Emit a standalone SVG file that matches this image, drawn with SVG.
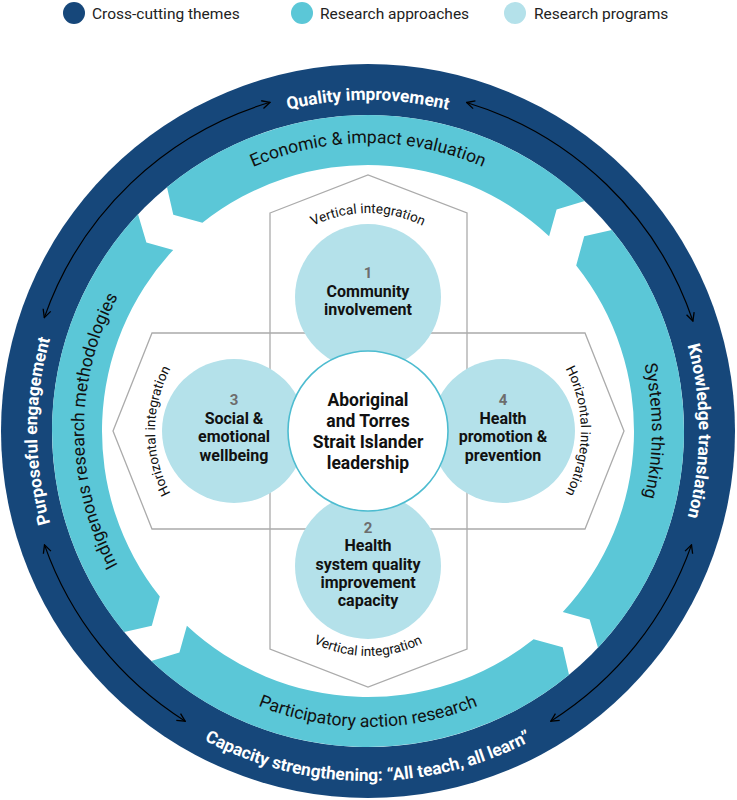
<svg xmlns="http://www.w3.org/2000/svg" width="737" height="800" viewBox="0 0 737 800">
<style>
.dark{fill:#16477A}
.teal{fill:#5BC7D7}
.light{fill:#B4E1EA}
.leg{font-family:Roboto,"Liberation Sans",sans-serif;font-size:15.5px;fill:#222}
.ringw{font-family:Roboto,"Liberation Sans",sans-serif;font-size:17.3px;font-weight:bold;fill:#fff}
.ringb{font-family:Roboto,"Liberation Sans",sans-serif;font-size:17.6px;fill:#111}
.integ{font-family:Roboto,"Liberation Sans",sans-serif;font-size:13.5px;fill:#111}
.num{font-family:Roboto,"Liberation Sans",sans-serif;font-size:15px;font-weight:bold;fill:#6d6d6d}
.nt{font-family:Roboto,"Liberation Sans",sans-serif;font-size:16px;font-weight:bold;fill:#111}
.ct{font-family:Roboto,"Liberation Sans",sans-serif;font-size:17.5px;font-weight:bold;fill:#111}
.hex{fill:none;stroke:#ababab;stroke-width:1.3}
.arr{fill:none;stroke:#000;stroke-width:1.2;marker-start:url(#ah);marker-end:url(#ah)}
</style>
<defs>
<marker id="ah" viewBox="0 0 10 10" refX="9" refY="5" markerWidth="10" markerHeight="10" markerUnits="userSpaceOnUse" orient="auto-start-reverse">
<path d="M1,1 L9,5 L1,9" fill="none" stroke="#000" stroke-width="1.3"/>
</marker>
<path id="pDarkTop" d="M37,431 A331,331 0 0 1 699,431"/>
<path id="pDarkRight" d="M368,100 A331,331 0 0 1 368,762"/>
<path id="pDarkLeft" d="M368,762 A331,331 0 0 1 368,100"/>
<path id="pDarkBottom" d="M18,431 A350,350 0 0 0 718,431"/>
<path id="pTealTop" d="M80,431 A288,288 0 0 1 656,431"/>
<path id="pTealRight" d="M368,147 A284,284 0 0 1 368,715"/>
<path id="pTealLeft" d="M368,715 A284,284 0 0 1 368,147"/>
<path id="pTealBottom" d="M72,431 A296,296 0 0 0 664,431"/>
<path id="pVTop" d="M245,336 A123,123 0 0 1 491,336"/>
<path id="pVBottom" d="M245,533 A123,123 0 0 0 491,533"/>
<path id="pHLeft" d="M288,564 A133,133 0 0 1 288,298"/>
<path id="pHRight" d="M448,298 A133,133 0 0 1 448,564"/>
</defs>
<rect width="737" height="800" fill="#fff"/>

<g id="legend">
<circle class="dark" cx="74" cy="13" r="11"/>
<text class="leg" x="92" y="19">Cross-cutting themes</text>
<circle class="teal" cx="302" cy="13" r="11"/>
<text class="leg" x="320" y="19">Research approaches</text>
<circle class="light" cx="515" cy="13" r="11"/>
<text class="leg" x="534" y="19">Research programs</text>
</g>

<g id="cross-cutting-ring">
<circle class="dark" cx="368" cy="431" r="367"/>
<circle fill="#fff" cx="368" cy="431" r="316"/>
</g>

<g id="research-approaches-ring">
<path id="seg-right" class="teal" d="M598.0,647.7 A316,316 0 0 0 611.8,230.0 L584.2,236.3 L576.2,265.4 A266,266 0 0 1 562.8,612.1 L589.6,619.6 Z"/>
<path id="seg-top" class="teal" d="M584.7,201.0 A316,316 0 0 0 167.0,187.2 L173.3,214.8 L202.4,222.8 A266,266 0 0 1 549.1,236.2 L556.6,209.4 Z"/>
<path id="seg-left" class="teal" d="M138.0,214.3 A316,316 0 0 0 124.2,632.0 L151.8,625.7 L159.8,596.6 A266,266 0 0 1 173.2,249.9 L146.4,242.4 Z"/>
<path id="seg-bottom" class="teal" d="M151.3,661.0 A316,316 0 0 0 569.0,674.8 L562.7,647.2 L533.6,639.2 A266,266 0 0 1 186.9,625.8 L179.4,652.6 Z"/>
</g>

<g id="connectors">
<path class="arr" d="M44.3,317.6 A343,343 0 0 1 270.0,102.3"/>
<path class="arr" d="M466.6,102.5 A343,343 0 0 1 692.9,321.0"/>
<path class="arr" d="M691.5,544.9 A343,343 0 0 1 550.8,721.2"/>
<path class="arr" d="M185.2,721.2 A343,343 0 0 1 44.5,544.9"/>
</g>

<g id="theme-quality">
<text class="ringw"><textPath href="#pDarkTop" startOffset="50%" text-anchor="middle">Quality improvement</textPath></text>
</g>
<g id="theme-knowledge">
<text class="ringw"><textPath href="#pDarkRight" startOffset="50%" text-anchor="middle">Knowledge translation</textPath></text>
</g>
<g id="theme-capacity">
<text class="ringw"><textPath href="#pDarkBottom" startOffset="50%" text-anchor="middle">Capacity strengthening: “All teach, all learn”</textPath></text>
</g>
<g id="theme-purposeful">
<text class="ringw"><textPath href="#pDarkLeft" startOffset="50%" text-anchor="middle">Purposeful engagement</textPath></text>
</g>

<g id="approach-economic">
<text class="ringb"><textPath href="#pTealTop" startOffset="50%" text-anchor="middle">Economic &amp; impact evaluation</textPath></text>
</g>
<g id="approach-systems">
<text class="ringb"><textPath href="#pTealRight" startOffset="50%" text-anchor="middle">Systems thinking</textPath></text>
</g>
<g id="approach-participatory">
<text class="ringb"><textPath href="#pTealBottom" startOffset="50%" text-anchor="middle">Participatory action research</textPath></text>
</g>
<g id="approach-indigenous">
<text class="ringb"><textPath href="#pTealLeft" startOffset="50%" text-anchor="middle">Indigenous research methodologies</textPath></text>
</g>

<g id="vertical-integration">
<polygon class="hex" points="270,213 368,175 467,213 467,649 368,687 270,649"/>
<text class="integ"><textPath href="#pVTop" startOffset="50%" text-anchor="middle">Vertical integration</textPath></text>
<text class="integ"><textPath href="#pVBottom" startOffset="50%" text-anchor="middle">Vertical integration</textPath></text>
</g>
<g id="horizontal-integration">
<polygon class="hex" points="152,333 585,333 624,431 585,529 152,529 113,431"/>
<text class="integ"><textPath href="#pHLeft" startOffset="50%" text-anchor="middle">Horizontal integration</textPath></text>
<text class="integ"><textPath href="#pHRight" startOffset="50%" text-anchor="middle">Horizontal integration</textPath></text>
</g>

<g id="program-1">
<circle class="light" cx="368" cy="297" r="73"/>
<text class="num" x="368" y="278" text-anchor="middle">1</text>
<text class="nt" x="368" y="297" text-anchor="middle">Community</text>
<text class="nt" x="368" y="315" text-anchor="middle">involvement</text>
</g>
<g id="program-2">
<circle class="light" cx="368" cy="566" r="73"/>
<text class="num" x="368" y="533" text-anchor="middle">2</text>
<text class="nt" x="368" y="551" text-anchor="middle">Health</text>
<text class="nt" x="368" y="570" text-anchor="middle">system quality</text>
<text class="nt" x="368" y="588" text-anchor="middle">improvement</text>
<text class="nt" x="368" y="606" text-anchor="middle">capacity</text>
</g>
<g id="program-3">
<circle class="light" cx="234" cy="431" r="72"/>
<text class="num" x="234" y="405" text-anchor="middle">3</text>
<text class="nt" x="234" y="424" text-anchor="middle">Social &amp;</text>
<text class="nt" x="234" y="442" text-anchor="middle">emotional</text>
<text class="nt" x="234" y="461" text-anchor="middle">wellbeing</text>
</g>
<g id="program-4">
<circle class="light" cx="503" cy="431" r="72"/>
<text class="num" x="503" y="405" text-anchor="middle">4</text>
<text class="nt" x="503" y="424" text-anchor="middle">Health</text>
<text class="nt" x="503" y="442" text-anchor="middle">promotion &amp;</text>
<text class="nt" x="503" y="461" text-anchor="middle">prevention</text>
</g>
<g id="leadership">
<circle cx="368" cy="431" r="80" fill="#fff" stroke="#4DBCD0" stroke-width="1.6"/>
<text class="ct" x="368" y="406" text-anchor="middle">Aboriginal</text>
<text class="ct" x="368" y="427" text-anchor="middle">and Torres</text>
<text class="ct" x="368" y="448" text-anchor="middle">Strait Islander</text>
<text class="ct" x="368" y="469" text-anchor="middle">leadership</text>
</g>
</svg>
